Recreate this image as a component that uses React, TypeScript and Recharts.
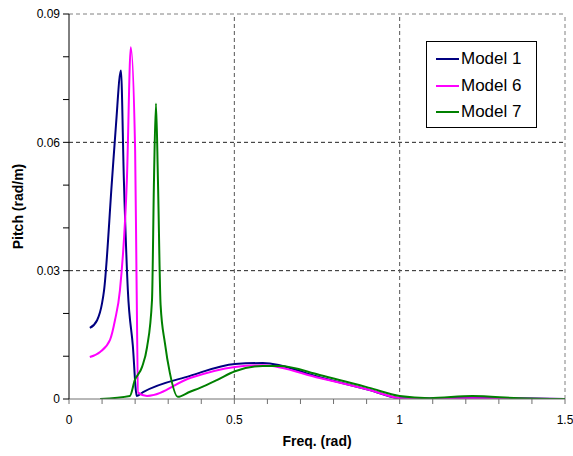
import React from "react";
import {
  LineChart,
  Line,
  XAxis,
  YAxis,
  ReferenceLine,
} from "recharts";

// frequency (rad) / pitch (rad/m)
const model1Freq = [0.063, 0.085, 0.1, 0.106, 0.13, 0.142, 0.157, 0.166, 0.178, 0.193, 0.205, 0.224, 0.366, 0.502, 0.586, 0.758, 0.909, 1.0, 1.1, 1.2, 1.3, 1.5];
const model1Pitch = [0.0166, 0.0184, 0.0224, 0.0254, 0.0511, 0.064, 0.0768, 0.0511, 0.0254, 0.0125, 0.0007, 0.0016, 0.0054, 0.0082, 0.0084, 0.0051, 0.0021, 0.0002, 0.0001, 0.0003, 0.0002, 0.0];

const model6Freq = [0.063, 0.094, 0.124, 0.139, 0.154, 0.175, 0.187, 0.2, 0.204, 0.209, 0.236, 0.366, 0.502, 0.586, 0.758, 0.909, 1.0, 1.05, 1.2, 1.5];
const model6Pitch = [0.0098, 0.011, 0.0138, 0.0184, 0.0254, 0.0511, 0.0822, 0.058, 0.03, 0.0015, 0.0007, 0.0049, 0.0075, 0.0079, 0.0049, 0.0021, 0.0002, 0.0, 0.0002, 0.0];

const model7Freq = [0.094, 0.184, 0.199, 0.221, 0.236, 0.251, 0.257, 0.263, 0.269, 0.277, 0.29, 0.305, 0.329, 0.366, 0.396, 0.447, 0.502, 0.586, 0.637, 0.758, 0.909, 1.0, 1.09, 1.22, 1.36, 1.5];
const model7Pitch = [0.0, 0.0007, 0.0044, 0.0075, 0.0121, 0.0231, 0.0511, 0.0691, 0.0511, 0.022, 0.0131, 0.0061, 0.0005, 0.0017, 0.0026, 0.0044, 0.0065, 0.0077, 0.0077, 0.0056, 0.0026, 0.0007, 0.0002, 0.0007, 0.0002, 0.0];

const xTicks = [0, 0.1, 0.2, 0.3, 0.4, 0.5, 0.6, 0.7, 0.8, 0.9, 1, 1.1, 1.2, 1.3, 1.4, 1.5];
const xLabels = ["0", "0.5", "1", "1.5"];
const xMajor = [0, 0.5, 1, 1.5];
const yTicks = [0, 0.01, 0.02, 0.03, 0.04, 0.05, 0.06, 0.07, 0.08, 0.09];
const yLabels = ["0", "0.03", "0.06", "0.09"];
const yMajor = [0, 0.03, 0.06, 0.09];

const series = [
  { name: "Model 1", color: "#000080", freq: model1Freq, pitch: model1Pitch },
  { name: "Model 6", color: "#FF00FF", freq: model6Freq, pitch: model6Pitch },
  { name: "Model 7", color: "#008000", freq: model7Freq, pitch: model7Pitch },
];

const toRows = (xs: number[], ys: number[]) => xs.map((x, i) => ({ x, y: ys[i] }));

const FONT = "'Liberation Sans', Arial, sans-serif";

function LegendBox() {
  return (
    <div
      style={{
        position: "absolute",
        left: 426,
        top: 41,
        border: "1px solid #000",
        background: "#fff",
        width: 111,
        height: 87,
        boxSizing: "border-box",
        padding: "4px 0 0 9px",
        fontFamily: FONT,
        fontSize: 17,
        color: "#000",
      }}
    >
      {series.map((s) => (
        <div key={s.name} style={{ display: "flex", alignItems: "center", height: 26.5 }}>
          <span style={{ display: "inline-block", width: 23, height: 2, background: s.color, marginRight: 2 }} />
          <span>{s.name}</span>
        </div>
      ))}
    </div>
  );
}

export default function App() {
  const fmtX = (v: number) => {
    const i = xMajor.findIndex((m) => Math.abs(m - v) < 1e-6);
    return i >= 0 ? xLabels[i] : "";
  };
  const fmtY = (v: number) => {
    const i = yMajor.findIndex((m) => Math.abs(m - v) < 1e-6);
    return i >= 0 ? yLabels[i] : "";
  };

  return (
    <div style={{ position: "absolute", left: 0, top: 0, width: 573, height: 456, background: "#fff" }}>
      <LineChart width={573} height={456} margin={{ top: 14, right: 8, left: 0, bottom: 0 }}>
        <XAxis
          type="number"
          dataKey="x"
          domain={[0, 1.5]}
          ticks={xTicks}
          tickFormatter={fmtX}
          interval={0}
          allowDataOverflow
          height={57}
          stroke="#707070"
          tickSize={5}
          tickMargin={11}
          tick={{ fill: "#000", fontSize: 12, fontFamily: FONT }}
          label={{
            value: "Freq. (rad)",
            position: "insideBottom",
            offset: 10,
            style: { fontWeight: "bold", fontSize: 14, fontFamily: FONT, fill: "#000" },
          }}
        />
        <YAxis
          type="number"
          domain={[0, 0.09]}
          ticks={yTicks}
          tickFormatter={fmtY}
          interval={0}
          allowDataOverflow
          width={69}
          stroke="#000"
          tickSize={6}
          tickMargin={3}
          tick={{ fill: "#000", fontSize: 12, fontFamily: FONT }}
          label={{
            value: "Pitch (rad/m)",
            angle: -90,
            position: "insideLeft",
            offset: 18,
            style: { fontWeight: "bold", fontSize: 14, fontFamily: FONT, fill: "#000", textAnchor: "middle" },
          }}
        />
        {yMajor.slice(1).map((v, i) => (
          <ReferenceLine
            key={"h" + v}
            y={v}
            stroke={i === yMajor.length - 2 ? "#808080" : "#222"}
            strokeDasharray="4 3"
          />
        ))}
        {xMajor.slice(1).map((v, i) => (
          <ReferenceLine
            key={"v" + v}
            x={v}
            stroke={i === xMajor.length - 2 ? "#808080" : "#555"}
            strokeDasharray="4 3"
          />
        ))}
        {series.map((s) => (
          <Line
            key={s.name}
            name={s.name}
            data={toRows(s.freq, s.pitch)}
            dataKey="y"
            type="monotone"
            stroke={s.color}
            strokeWidth={2}
            dot={false}
            isAnimationActive={false}
          />
        ))}
      </LineChart>
      <LegendBox />
    </div>
  );
}
